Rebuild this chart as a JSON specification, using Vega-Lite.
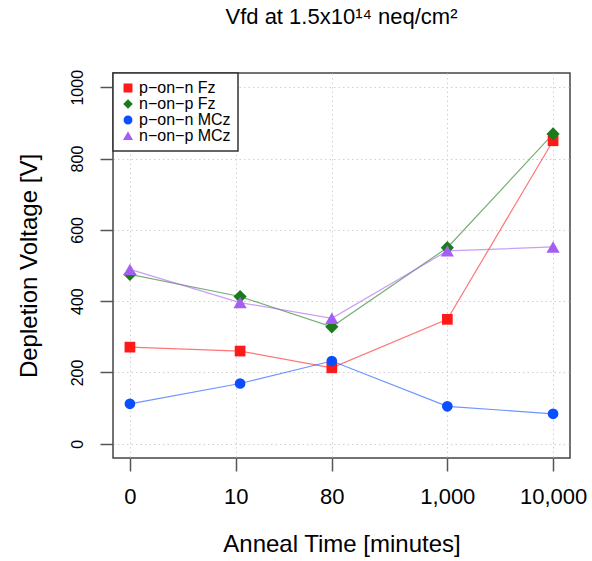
{
  "$schema": "https://vega.github.io/schema/vega-lite/v6.json",
  "width": 457,
  "height": 385,
  "autosize": {"type": "none"},
  "padding": {"left": 113, "top": 73, "right": 22, "bottom": 103},
  "background": "white",
  "title": {
    "text": "Vfd at 1.5x10¹⁴ neq/cm²",
    "font": "Liberation Sans",
    "fontSize": 22,
    "fontWeight": "normal",
    "color": "black",
    "offset": 40
  },
  "config": {
    "view": {"stroke": "#444444", "strokeWidth": 1.5},
    "axis": {
      "labelFont": "Liberation Sans",
      "titleFont": "Liberation Sans",
      "labelColor": "black",
      "titleColor": "black",
      "titleFontWeight": "normal",
      "titleFontSize": 24,
      "domain": false,
      "tickSize": 13,
      "tickColor": "#555555",
      "tickWidth": 1.5,
      "grid": true,
      "gridColor": "#d0d0d0",
      "gridDash": [1.5, 3],
      "gridWidth": 1
    },
    "legend": {
      "labelFont": "Liberation Sans",
      "labelFontSize": 16,
      "labelColor": "black",
      "orient": "top-left",
      "offset": 0,
      "padding": 7,
      "strokeColor": "#333333",
      "strokeWidth": 1.5,
      "fillColor": "white",
      "symbolSize": 55,
      "symbolOpacity": 1,
      "labelOffset": 3,
      "rowPadding": -1
    }
  },
  "data": {
    "values": [
      {"series": "p−on−n Fz", "time": 0, "v": 271},
      {"series": "p−on−n Fz", "time": 10, "v": 260},
      {"series": "p−on−n Fz", "time": 80, "v": 213},
      {"series": "p−on−n Fz", "time": 1000, "v": 349},
      {"series": "p−on−n Fz", "time": 10000, "v": 850},
      {"series": "n−on−p Fz", "time": 0, "v": 475},
      {"series": "n−on−p Fz", "time": 10, "v": 413},
      {"series": "n−on−p Fz", "time": 80, "v": 328},
      {"series": "n−on−p Fz", "time": 1000, "v": 550},
      {"series": "n−on−p Fz", "time": 10000, "v": 869},
      {"series": "p−on−n MCz", "time": 0, "v": 112},
      {"series": "p−on−n MCz", "time": 10, "v": 169},
      {"series": "p−on−n MCz", "time": 80, "v": 232},
      {"series": "p−on−n MCz", "time": 1000, "v": 105},
      {"series": "p−on−n MCz", "time": 10000, "v": 84},
      {"series": "n−on−p MCz", "time": 0, "v": 489},
      {"series": "n−on−p MCz", "time": 10, "v": 396},
      {"series": "n−on−p MCz", "time": 80, "v": 352},
      {"series": "n−on−p MCz", "time": 1000, "v": 541},
      {"series": "n−on−p MCz", "time": 10000, "v": 552}
    ]
  },
  "encoding": {
    "x": {
      "field": "time",
      "type": "quantitative",
      "scale": {"type": "symlog", "constant": 1, "domain": [-0.4454, 14454], "nice": false, "zero": false},
      "axis": {
        "values": [0, 9, 80, 1000, 10000],
        "labelExpr": "datum.value == 9 ? '10' : format(datum.value, ',')",
        "labelFontSize": 22,
        "labelPadding": 15,
        "labelFlush": false,
        "labelOverlap": false,
        "title": "Anneal Time [minutes]",
        "titlePadding": 25
      }
    },
    "y": {
      "field": "v",
      "type": "quantitative",
      "scale": {"domain": [-40, 1040], "nice": false, "zero": false},
      "axis": {
        "values": [0, 200, 400, 600, 800, 1000],
        "format": "d",
        "labelAngle": -90,
        "labelAlign": "center",
        "labelBaseline": "bottom",
        "labelFontSize": 16,
        "labelPadding": 15,
        "title": "Depletion Voltage [V]",
        "titlePadding": 28
      }
    },
    "color": {
      "field": "series",
      "type": "nominal",
      "scale": {
        "domain": ["p−on−n Fz", "n−on−p Fz", "p−on−n MCz", "n−on−p MCz"],
        "range": ["#ff1a1a", "#1c7a1c", "#0a4fff", "#a55ef2"]
      },
      "title": null
    }
  },
  "layer": [
    {
      "mark": {"type": "line", "strokeWidth": 1.2, "strokeOpacity": 0.6}
    },
    {
      "transform": [{"filter": {"field": "series", "oneOf": ["p−on−n Fz", "p−on−n MCz"]}}],
      "mark": {"type": "point", "filled": true, "opacity": 1, "size": 115},
      "encoding": {
        "shape": {
          "field": "series",
          "type": "nominal",
          "scale": {
            "domain": ["p−on−n Fz", "n−on−p Fz", "p−on−n MCz", "n−on−p MCz"],
            "range": ["square", "diamond", "circle", "triangle-up"]
          },
          "title": null
        }
      }
    },
    {
      "transform": [{"filter": {"field": "series", "oneOf": ["n−on−p Fz", "n−on−p MCz"]}}],
      "mark": {"type": "point", "filled": true, "opacity": 1, "size": 175},
      "encoding": {
        "shape": {
          "field": "series",
          "type": "nominal",
          "scale": {
            "domain": ["p−on−n Fz", "n−on−p Fz", "p−on−n MCz", "n−on−p MCz"],
            "range": ["square", "diamond", "circle", "triangle-up"]
          },
          "title": null
        }
      }
    }
  ]
}
